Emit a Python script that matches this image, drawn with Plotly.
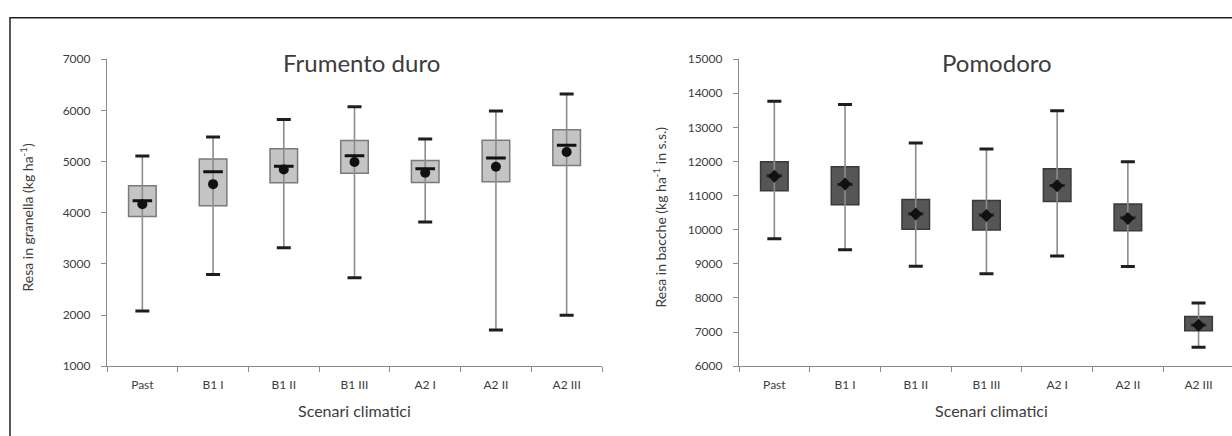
import plotly.graph_objects as go

categories = ["Past", "B1 I", "B1 II", "B1 III", "A2 I", "A2 II", "A2 III"]

# Frumento duro (kg ha-1)
wheat_min = [2080, 2795, 3315, 2730, 3818, 1706, 1994]
wheat_q1 = [3924, 4135, 4585, 4772, 4590, 4604, 4924]
wheat_median = [4235, 4800, 4910, 5115, 4860, 5070, 5320]
wheat_mean = [4165, 4558, 4845, 4990, 4780, 4898, 5185]
wheat_q3 = [4526, 5050, 5250, 5410, 5022, 5414, 5620]
wheat_max = [5108, 5480, 5822, 6072, 5440, 5985, 6320]

# Pomodoro (kg ha-1 in s.s.)
tom_min = [9740, 9415, 8930, 8710, 9230, 8920, 6560]
tom_q1 = [11145, 10730, 10015, 9990, 10830, 9970, 7040]
tom_median = [11580, 11330, 10470, 10430, 11300, 10350, 7210]
tom_mean = [11570, 11340, 10460, 10420, 11290, 10330, 7200]
tom_q3 = [11990, 11850, 10890, 10860, 11785, 10755, 7455]
tom_max = [13770, 13675, 12545, 12370, 13490, 11990, 7850]

FONT = "Lato, 'Open Sans', sans-serif"
TXT = "#3c3c3c"
W, H = 1232, 436

fig = go.Figure()


def add_panel(xa, ya, mn, q1, med, mean, q3, mx, box_fill, box_line,
              mean_symbol, med_color, med_size):
    # whiskers
    wx, wy = [], []
    for c, lo, hi in zip(categories, mn, mx):
        wx += [c, c, None]
        wy += [lo, hi, None]
    fig.add_trace(go.Scatter(x=wx, y=wy, mode="lines", xaxis=xa, yaxis=ya,
                             line=dict(color="#8c8c8c", width=1.6),
                             hoverinfo="skip", showlegend=False))
    # boxes
    fig.add_trace(go.Bar(x=categories, y=[b - a for a, b in zip(q1, q3)], base=q1,
                         width=0.39, xaxis=xa, yaxis=ya,
                         marker=dict(color=box_fill, line=dict(color=box_line, width=1.5)),
                         showlegend=False))
    # caps
    fig.add_trace(go.Scatter(x=categories + categories, y=list(mn) + list(mx), mode="markers",
                             xaxis=xa, yaxis=ya,
                             marker=dict(symbol="line-ew", size=10,
                                         line=dict(color="#1e1e1e", width=3)),
                             showlegend=False))
    # median dash
    fig.add_trace(go.Scatter(x=categories, y=med, mode="markers", xaxis=xa, yaxis=ya,
                             marker=dict(symbol="line-ew", size=med_size,
                                         line=dict(color=med_color, width=3)),
                             showlegend=False))
    # mean
    fig.add_trace(go.Scatter(x=categories, y=mean, mode="markers", xaxis=xa, yaxis=ya,
                             marker=dict(symbol=mean_symbol, size=10, color="#111111",
                                         line=dict(width=0)),
                             showlegend=False))


add_panel("x", "y", wheat_min, wheat_q1, wheat_median, wheat_mean, wheat_q3, wheat_max,
          "#c4c4c4", "#7a7a7a", "circle", "#111111", 14)
add_panel("x2", "y2", tom_min, tom_q1, tom_median, tom_mean, tom_q3, tom_max,
          "#565656", "#3a3a3a", "diamond", "#262626", 11)

ydom = [1 - 371 / H, 1 - 53 / H]
axis_common = dict(showgrid=False, zeroline=False, showline=True, linecolor="#8a8a8a",
                   linewidth=1.2, ticks="outside", ticklen=5, tickcolor="#8a8a8a",
                   tickfont=dict(family=FONT, size=12, color=TXT))

fig.update_layout(
    width=W, height=H,
    margin=dict(l=0, r=0, t=0, b=0),
    paper_bgcolor="white", plot_bgcolor="white",
    barmode="overlay",
    showlegend=False,
    xaxis=dict(domain=[107 / W, 602 / W], anchor="y", type="category",
               categoryorder="array", categoryarray=categories,
               range=[-0.5, 6.5], tickson="boundaries", ticklabelstandoff=7,
               **axis_common),
    yaxis=dict(domain=ydom, anchor="x", range=[1000, 7000], dtick=1000,
               tickformat="d", ticklabelstandoff=8, **axis_common),
    xaxis2=dict(domain=[739 / W, 1.0], anchor="y2", type="category",
                categoryorder="array", categoryarray=categories,
                range=[-0.5, -0.5 + (W - 739) / 70.7], tickson="boundaries",
                ticklabelstandoff=7, **axis_common),
    yaxis2=dict(domain=ydom, anchor="x2", range=[6000, 15000], dtick=1000,
                tickformat="d", ticklabelstandoff=8, **axis_common),
)

ann = [
    dict(text="Frumento duro", x=361 / W, y=1 - 56 / H, size=24),
    dict(text="Pomodoro", x=997 / W, y=1 - 56 / H, size=24),
    dict(text="Scenari climatici", x=354 / W, y=1 - 417 / H, size=16),
    dict(text="Scenari climatici", x=991 / W, y=1 - 417 / H, size=16),
]
for a in ann:
    fig.add_annotation(text=a["text"], x=a["x"], y=a["y"], xref="paper", yref="paper",
                       showarrow=False, xanchor="center", yanchor="middle",
                       font=dict(family=FONT, size=a["size"], color=TXT))
fig.add_annotation(text="Resa in granella (kg ha<sup>-1</sup>)", x=27 / W, y=1 - 217 / H,
                   xref="paper", yref="paper", showarrow=False, textangle=-90,
                   xanchor="center", yanchor="middle",
                   font=dict(family=FONT, size=14, color=TXT))
fig.add_annotation(text="Resa in bacche (kg ha<sup>-1</sup> in s.s.)", x=660 / W, y=1 - 217 / H,
                   xref="paper", yref="paper", showarrow=False, textangle=-90,
                   xanchor="center", yanchor="middle",
                   font=dict(family=FONT, size=14, color=TXT))

# outer frame (left and top edges visible)
fig.add_shape(type="rect", xref="paper", yref="paper",
              x0=10 / W, x1=1.05, y0=-0.05, y1=1 - 10 / H,
              line=dict(color="#222222", width=1.5), fillcolor="rgba(0,0,0,0)")

fig.write_html(
    "out.html",
    config={"displayModeBar": False},
    post_script="document.body.style.margin='0';document.body.style.overflow='hidden';",
)
